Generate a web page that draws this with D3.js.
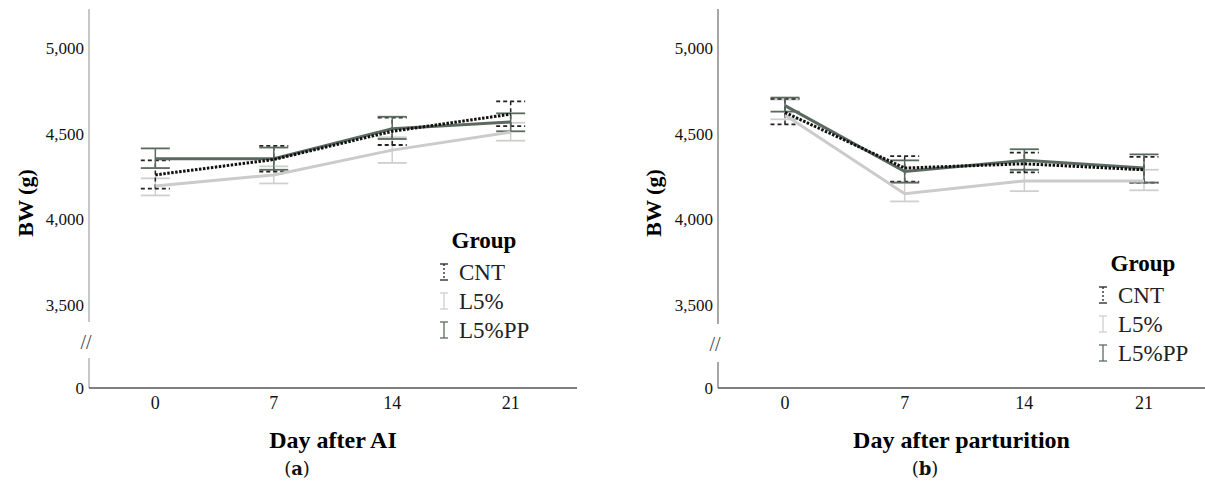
<!DOCTYPE html>
<html>
<head>
<meta charset="utf-8">
<script src="https://cdn.jsdelivr.net/npm/d3@7"></script>
<style>
  body { margin: 0; background: #fff; }
  svg { display: block; }
  text { font-family: "Liberation Serif", "Times New Roman", Times, "DejaVu Serif", serif; }
  text.cap { font-family: "DejaVu Serif", serif; }
</style>
</head>
<body>
<svg id="chart" width="1205" height="502"></svg>
<script>
// day labels and groups
const days = ["0", "7", "14", "21"];
const groups = ["CNT", "L5%", "L5%PP"];
const yTicks = [3500, 4000, 4500, 5000];

// (a) Day after AI
const aiCNT = [4260, 4350, 4515, 4615];
const aiCNTLo = [4180, 4280, 4435, 4545];
const aiCNTHi = [4345, 4430, 4595, 4690];
const aiL5 = [4195, 4260, 4405, 4510];
const aiL5Lo = [4140, 4210, 4330, 4460];
const aiL5Hi = [4240, 4310, 4480, 4565];
const aiPP = [4355, 4355, 4530, 4570];
const aiPPLo = [4300, 4290, 4470, 4515];
const aiPPHi = [4415, 4420, 4600, 4620];

// (b) Day after parturition
const ptCNT = [4625, 4300, 4325, 4290];
const ptCNTLo = [4555, 4220, 4275, 4215];
const ptCNTHi = [4705, 4370, 4390, 4365];
const ptL5 = [4610, 4150, 4225, 4225];
const ptL5Lo = [4585, 4105, 4165, 4170];
const ptL5Hi = [4700, 4215, 4290, 4290];
const ptPP = [4665, 4280, 4345, 4300];
const ptPPLo = [4630, 4215, 4290, 4215];
const ptPPHi = [4712, 4345, 4410, 4380];

const styles = {
  "CNT":   { color: "#111", width: 3, dash: "2.5,1.5", barDash: "4,3", barColor: "#222" },
  "L5%":   { color: "#cbcbcb", width: 3, dash: null, barDash: null, barColor: "#cfcfcf" },
  "L5%PP": { color: "#5b6a5f", width: 3, dash: null, barDash: null, barColor: "#5b6a5f" }
};

const svg = d3.select("#chart");

function drawPanel(opt) {
  const g = svg.append("g");
  const x = d3.scalePoint().domain(days).range([opt.x0, opt.x1]).padding(0.56);
  const y = d3.scaleLinear().domain([3400, 5230]).range([322, 9]);
  const yZero = 388;

  // y axis (broken)
  g.append("line").attr("x1", opt.x0).attr("x2", opt.x0)
    .attr("y1", y(5230)).attr("y2", y(3400) + opt.brkShift)
    .attr("stroke", opt.axisColor).attr("stroke-width", 1.3);
  g.append("line").attr("x1", opt.x0).attr("x2", opt.x0)
    .attr("y1", 358 + opt.brkShift * 2).attr("y2", yZero)
    .attr("stroke", opt.axisColor).attr("stroke-width", 1.3);
  g.append("text").attr("x", opt.x0 - 3).attr("y", 349 + opt.brkShift)
    .attr("text-anchor", "middle").attr("font-size", 20)
    .attr("fill", "#444").text("//");

  g.selectAll(".ytick").data(yTicks).enter().append("text")
    .attr("x", opt.x0 - 5).attr("y", d => y(d)).attr("dy", "0.35em")
    .attr("text-anchor", "end").attr("font-size", 17)
    .attr("fill", "#111").text(d => d3.format(",")(d));
  g.append("text").attr("x", opt.x0 - 5).attr("y", yZero).attr("dy", "0.35em")
    .attr("text-anchor", "end").attr("font-size", 17)
    .attr("fill", "#111").text("0");

  // x axis
  g.append("line").attr("x1", opt.x0).attr("x2", opt.x1)
    .attr("y1", yZero).attr("y2", yZero).attr("stroke", "#555").attr("stroke-width", 1.3);
  g.selectAll(".xtick").data(days).enter().append("text")
    .attr("x", d => x(d)).attr("y", 409)
    .attr("text-anchor", "middle").attr("font-size", 18)
    .attr("fill", "#111").text(d => d);

  // titles
  g.append("text").attr("x", (opt.x0 + Math.min(opt.x1, 1205)) / 2).attr("y", 448)
    .attr("text-anchor", "middle").attr("font-size", 24)
    .attr("font-weight", "bold").text(opt.xTitle);
  g.append("text").attr("transform", `translate(${opt.yTitleX},${203}) rotate(-90)`)
    .attr("text-anchor", "middle").attr("font-size", 22)
    .attr("font-weight", "bold").attr("dy", "0.35em").text("BW (g)");
  const cap = g.append("text").attr("class", "cap").attr("x", opt.capX).attr("y", 475)
    .attr("text-anchor", "middle").attr("font-size", 18).attr("fill", "#111");
  cap.append("tspan").text("(");
  cap.append("tspan").attr("font-weight", "bold").text(opt.cap);
  cap.append("tspan").text(")");

  // error bars, then lines
  const order = ["L5%", "CNT", "L5%PP"];
  const half = 14.5;
  order.forEach(name => {
    const s = styles[name];
    const ser = opt.series[name];
    const eb = g.append("g");
    days.forEach((d, i) => {
      const cx = x(d);
      eb.append("line").attr("x1", cx).attr("x2", cx)
        .attr("y1", y(ser.lo[i])).attr("y2", y(ser.hi[i]))
        .attr("stroke", s.barColor).attr("stroke-width", 1.5)
        .attr("stroke-dasharray", s.barDash);
      [ser.lo[i], ser.hi[i]].forEach(v => {
        eb.append("line").attr("x1", cx - half).attr("x2", cx + half)
          .attr("y1", y(v)).attr("y2", y(v))
          .attr("stroke", s.barColor).attr("stroke-width", 1.8)
          .attr("stroke-dasharray", s.barDash);
      });
    });
  });
  ["L5%", "L5%PP", "CNT"].forEach(name => {
    const s = styles[name];
    const ser = opt.series[name];
    const line = d3.line().x((v, i) => x(days[i])).y(v => y(v));
    g.append("path").attr("d", line(ser.mean)).attr("fill", "none")
      .attr("stroke", s.color).attr("stroke-width", s.width)
      .attr("stroke-dasharray", s.dash);
  });

  // legend
  const lg = g.append("g");
  lg.append("text").attr("x", opt.legX + 40).attr("y", opt.legY).attr("dy", "0.35em")
    .attr("text-anchor", "middle").attr("font-size", 23)
    .attr("font-weight", "bold").text("Group");
  groups.forEach((name, i) => {
    const s = styles[name];
    const cy = opt.legY + 32 + i * 29;
    const sx = opt.legX;
    lg.append("line").attr("x1", sx).attr("x2", sx).attr("y1", cy - 8).attr("y2", cy + 8)
      .attr("stroke", s.barColor).attr("stroke-width", 1.3).attr("stroke-dasharray", s.barDash ? "2,2" : null);
    [cy - 8, cy + 8].forEach(yy => {
      lg.append("line").attr("x1", sx - 4).attr("x2", sx + 4).attr("y1", yy).attr("y2", yy)
        .attr("stroke", s.barColor).attr("stroke-width", 1.3);
    });
    lg.append("text").attr("x", sx + 15).attr("y", cy).attr("dy", "0.35em")
      .attr("font-size", 23).attr("fill", "#222").text(name);
  });
}

drawPanel({
  x0: 89, x1: 577, axisColor: "#aaa", brkShift: 0,
  xTitle: "Day after AI", yTitleX: 25, capX: 297, cap: "a",
  legX: 444, legY: 240,
  series: {
    "CNT": { mean: aiCNT, lo: aiCNTLo, hi: aiCNTHi },
    "L5%": { mean: aiL5, lo: aiL5Lo, hi: aiL5Hi },
    "L5%PP": { mean: aiPP, lo: aiPPLo, hi: aiPPHi }
  }
});
drawPanel({
  x0: 718, x1: 1211, axisColor: "#777", brkShift: 2,
  xTitle: "Day after parturition", yTitleX: 653, capX: 925, cap: "b",
  legX: 1103, legY: 263,
  series: {
    "CNT": { mean: ptCNT, lo: ptCNTLo, hi: ptCNTHi },
    "L5%": { mean: ptL5, lo: ptL5Lo, hi: ptL5Hi },
    "L5%PP": { mean: ptPP, lo: ptPPLo, hi: ptPPHi }
  }
});
</script>
</body>
</html>
